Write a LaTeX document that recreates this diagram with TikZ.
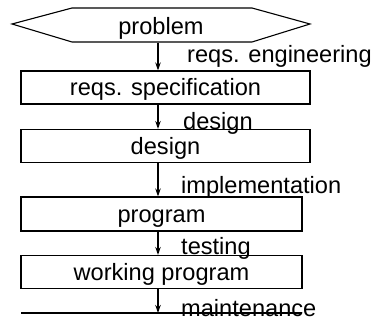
\documentclass[tikz,border=0pt]{standalone}
\usepackage{fontspec}
\setmainfont{Liberation Sans}
\usetikzlibrary{arrows.meta}
\tikzset{
  stage/.style={draw, line width=1.1pt, minimum height=33pt, inner sep=0pt,
    text height=20pt, text depth=3pt, font=\fontsize{23.6}{28}\selectfont},
  activity/.style={anchor=base west, inner sep=0pt, font=\fontsize{23.6}{28}\selectfont},
  flow/.style={-{Stealth[length=8pt,width=5.5pt]}, line width=1.2pt}
}
\begin{document}
\begin{tikzpicture}[x=1pt,y=-1pt]
    \useasboundingbox (0,0) rectangle (376,321);
    \coordinate (ax) at (158,0);

    % the problem, as a stretched hexagon
    \draw[line width=1.1pt] (12,24) -- (72,8) -- (252,8) -- (310,24) -- (252,42) -- (72,42) -- cycle;
    \node[stage, draw=none, minimum height=34pt, text height=21pt, text depth=2pt] (problem) at (161,25) {problem};

    \node[stage, minimum width=289pt] (spec) at (165.5,87.5) {reqs. specification};
    \node[stage, minimum width=289pt] (design) at (165.5,146) {design};
    \node[stage, minimum width=281pt, minimum height=34pt] (program) at (161.5,214) {program};
    \node[stage, minimum width=281pt] (working) at (161.5,272) {working program};

    \coordinate (endL) at (21,313);
    \coordinate (endR) at (302,313);
    \draw[line width=1.1pt] (endL) -- (endR);

    \draw[flow] (problem.south -| ax) -- (spec.north -| ax);
    \draw[flow] (spec.south -| ax) -- (design.north -| ax);
    \draw[flow] (design.south -| ax) -- (program.north -| ax);
    \draw[flow] (program.south -| ax) -- (working.north -| ax);
    \draw[flow] (working.south -| ax) -- (endL -| ax);

    \node[activity] (reqs) at (187,63) {reqs. engineering};
    \node[activity] (des) at (183,130) {design};
    \node[activity] (impl) at (181,194) {implementation};
    \node[activity] (test) at (181,255) {testing};
    \node[activity] (maint) at (181,317) {maintenance};
\end{tikzpicture}
\end{document}
